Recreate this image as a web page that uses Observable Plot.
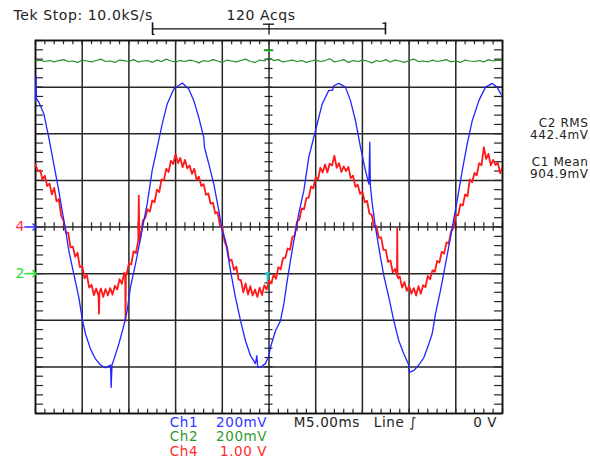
<!DOCTYPE html>
<html>
<head>
<meta charset="utf-8">
<script src="https://cdn.jsdelivr.net/npm/d3@7"></script>
<script src="https://cdn.jsdelivr.net/npm/@observablehq/plot@0.6"></script>
<style>
  html, body { margin: 0; padding: 0; background: #ffffff; }
</style>
</head>
<body>
<div id="chart"></div>
<script>
// Time in ms (5 ms/div), level in screen divisions.
const gridTimes = [0, 5, 10, 15, 20, 25, 30, 35, 40, 45, 50];
const gridLevels = [-4, -3, -2, -1, 0, 1, 2, 3, 4];

// Ch1 (blue, 200 mV/div) [ms, div]
const ch1 = [
[0,2.71],[0.05,3.25],[0.11,2.75],[0.35,2.68],[0.89,2.43],[1.42,1.92],[1.96,1.35],[2.49,0.78],[3.03,0.15],[3.21,-0.05],
[3.57,-0.51],[4.10,-1.01],[4.64,-1.51],[5.00,-1.97],[5.35,-2.29],[5.89,-2.62],[6.42,-2.83],[6.96,-2.96],[7.49,-3.02],[8.03,-2.96],
[8.10,-3.44],[8.19,-2.96],[8.38,-2.85],[8.92,-2.51],[9.45,-2.12],[9.82,-1.79],[10.17,-1.29],[10.71,-0.79],[11.24,-0.25],[11.42,-0.05],
[11.96,0.50],[12.49,1.21],[13.03,1.71],[13.57,2.21],[14.10,2.64],[14.81,2.96],[15.71,3.09],[16.41,2.96],[16.95,2.71],[17.48,2.35],
[18.02,1.92],[18.09,1.71],[18.56,1.35],[19.09,0.92],[19.63,0.35],[19.99,-0.08],[20.34,-0.29],[20.88,-0.94],[21.41,-1.51],[21.95,-2.01],
[22.48,-2.44],[23.02,-2.76],[23.55,-2.93],[23.70,-2.76],[23.80,-3.01],[24.09,-3.01],[24.63,-2.93],[24.98,-2.76],[25.16,-2.58],[25.70,-2.22],
[26.23,-2.01],[26.59,-1.65],[26.95,-1.15],[27.30,-0.72],[27.66,-0.29],[28.02,0.09],[28.19,0.29],[28.73,0.78],[29.26,1.50],[29.98,2.07],
[30.70,2.64],[31.40,2.93],[31.80,2.93],[31.94,3.03],[32.47,3.08],[33.19,3.00],[33.72,2.71],[34.26,2.28],[34.80,1.71],[35.33,1.21],
[35.69,0.92],[35.79,1.82],[35.85,0.89],[36.05,0.50],[36.40,-0.01],[36.94,-0.65],[37.29,-1.04],[37.83,-1.51],[38.36,-2.01],[38.90,-2.44],
[39.43,-2.72],[39.97,-2.96],[40.02,-3.12],[40.50,-3.08],[41.04,-2.96],[41.58,-2.80],[42.11,-2.51],[42.47,-2.29],[42.83,-1.86],[43.36,-1.36],
[43.90,-0.79],[44.43,-0.22],[44.62,-0.01],[45.15,0.57],[45.69,1.21],[46.22,1.78],[46.76,2.28],[47.47,2.71],[48.18,3.00],[48.90,3.08],
[49.43,3.00],[49.79,2.86],[50,2.82]
];

// Ch4 (red, 1.00 V/div) [ms, div]
const ch4 = [
[0.00,1.34],[0.25,1.20],[0.50,1.22],[0.75,1.02],[1.00,1.10],[1.25,0.88],[1.50,0.93],[1.75,0.70],[2.00,0.84],[2.25,0.55],
[2.50,0.60],[2.75,0.24],[3.00,0.14],[3.25,-0.12],[3.50,-0.12],[3.75,-0.44],[4.00,-0.42],[4.25,-0.64],[4.50,-0.55],[4.75,-0.86],
[5.00,-0.84],[5.25,-1.10],[5.50,-1.03],[5.75,-1.30],[6.00,-1.24],[6.25,-1.46],[6.50,-1.32],[6.75,-1.48],[6.80,-1.86],[6.85,-1.40],
[7.00,-1.32],[7.25,-1.50],[7.50,-1.33],[7.75,-1.47],[8.00,-1.31],[8.25,-1.45],[8.50,-1.26],[8.75,-1.34],[9.00,-1.12],[9.25,-1.22],
[9.50,-0.98],[9.60,-1.02],[9.64,-2.01],[9.68,-1.00],[9.75,-1.02],[10.00,-0.78],[10.25,-0.80],[10.50,-0.52],[10.75,-0.56],[11.00,-0.30],
[11.06,0.67],[11.12,-0.30],[11.25,-0.20],[11.50,0.14],[11.75,0.19],[12.00,0.38],[12.25,0.33],[12.50,0.57],[12.75,0.53],[13.00,0.80],
[13.25,0.75],[13.50,1.02],[13.75,1.00],[14.00,1.25],[14.25,1.18],[14.50,1.42],[14.75,1.35],[15.00,1.56],[15.25,1.37],[15.50,1.48],
[15.75,1.28],[16.00,1.44],[16.25,1.26],[16.50,1.32],[16.75,1.14],[17.00,1.25],[17.25,1.01],[17.50,1.08],[17.75,0.88],[18.00,0.92],
[18.25,0.69],[18.50,0.72],[18.75,0.50],[19.00,0.52],[19.25,0.29],[19.50,0.32],[19.75,0.03],[20.00,0.01],[20.25,-0.32],[20.50,-0.42],
[20.75,-0.73],[21.00,-0.70],[21.25,-0.92],[21.50,-0.85],[21.75,-1.13],[22.00,-1.14],[22.25,-1.40],[22.50,-1.21],[22.75,-1.45],[23.00,-1.27],
[23.25,-1.47],[23.50,-1.34],[23.75,-1.50],[24.00,-1.30],[24.25,-1.46],[24.50,-1.25],[24.75,-1.34],[25.00,-1.15],[25.25,-1.21],[25.50,-1.02],
[25.75,-1.11],[26.00,-0.86],[26.25,-0.91],[26.50,-0.67],[26.75,-0.66],[27.00,-0.46],[27.25,-0.49],[27.50,-0.22],[27.75,-0.18],[28.00,0.12],
[28.25,0.16],[28.50,0.40],[28.75,0.38],[29.00,0.62],[29.25,0.63],[29.50,0.87],[29.75,0.83],[30.00,1.07],[30.25,1.02],[30.50,1.27],
[30.75,1.17],[31.00,1.34],[31.25,1.17],[31.50,1.36],[31.75,1.32],[32.00,1.53],[32.25,1.27],[32.50,1.37],[32.75,1.18],[33.00,1.30],
[33.25,1.20],[33.50,1.29],[33.75,1.05],[34.00,1.10],[34.25,0.86],[34.50,0.91],[34.75,0.71],[35.00,0.76],[35.25,0.53],[35.50,0.56],
[35.75,0.29],[36.00,0.26],[36.25,0.01],[36.50,0.02],[36.75,-0.23],[37.00,-0.22],[37.25,-0.49],[37.50,-0.49],[37.75,-0.75],[38.00,-0.72],
[38.25,-0.97],[38.50,-0.90],[38.70,-1.04],[38.73,-0.03],[38.76,-1.06],[38.85,-1.10],[39.00,-1.06],[39.25,-1.30],[39.50,-1.18],[39.75,-1.37],
[40.00,-1.26],[40.25,-1.43],[40.50,-1.31],[40.75,-1.47],[41.00,-1.27],[41.25,-1.43],[41.50,-1.25],[41.75,-1.29],[42.00,-1.05],[42.25,-1.12],
[42.50,-0.93],[42.75,-0.96],[43.00,-0.73],[43.25,-0.76],[43.50,-0.53],[43.75,-0.57],[44.00,-0.33],[44.25,-0.35],[44.50,-0.09],[44.75,-0.02],
[45.00,0.26],[45.25,0.25],[45.50,0.49],[45.75,0.46],[46.00,0.70],[46.25,0.66],[46.50,1.02],[46.75,0.96],[47.00,1.16],[47.25,1.11],
[47.50,1.37],[47.75,1.32],[48.00,1.71],[48.25,1.46],[48.50,1.57],[48.75,1.32],[49.00,1.44],[49.25,1.33],[49.50,1.38],[49.75,1.15],
[50.00,1.28]
];

// Ch2 (green, 200 mV/div), sampled every 0.5 ms [div]
const ch2Step = 0.5;
const ch2 = [
3.56,3.58,3.55,3.57,3.54,3.57,3.59,3.55,3.56,3.53,
3.58,3.56,3.54,3.57,3.60,3.55,3.56,3.53,3.58,3.57,
3.55,3.59,3.54,3.56,3.57,3.53,3.58,3.55,3.60,3.56,
3.54,3.57,3.55,3.58,3.56,3.52,3.57,3.55,3.59,3.56,
3.53,3.58,3.56,3.54,3.57,3.60,3.55,3.53,3.58,3.56,
3.63,3.57,3.59,3.54,3.56,3.58,3.55,3.57,3.53,3.56,
3.58,3.55,3.57,3.61,3.54,3.56,3.59,3.53,3.57,3.55,
3.58,3.56,3.52,3.57,3.55,3.59,3.54,3.58,3.56,3.53,
3.57,3.60,3.55,3.56,3.54,3.58,3.55,3.57,3.59,3.54,
3.56,3.53,3.58,3.56,3.55,3.57,3.54,3.59,3.56,3.58,3.57
];

// Ground reference markers
const groundMarkers = [
  {label: "4", level: 0, text: "#ff2a4a", arrow: "#2a2aff"},
  {label: "2", level: -1, text: "#2ee02e", arrow: "#2ee02e"}
];

// Texts
const headerLeft = "Tek Stop: 10.0kS/s";
const headerMid = "120 Acqs";
const measureLabels = ["C2 RMS", "442.4mV", "C1 Mean", "904.9mV"];
const chNames = ["Ch1", "Ch2", "Ch4"];
const chScales = ["200mV", "200mV", "1.00 V"];
const chColors = ["#3333ff", "#2f9a2f", "#ff2a2a"];
const timebase = "M5.00ms";
const triggerSrc = "Line \u222B";
const triggerLevel = "0 V";

const minorTimes = d3.range(0, 50.001, 1);
const minorLevels = d3.range(-4, 4.001, 0.2);
const ch2Data = ch2.map((v, i) => ({t: i * ch2Step, v}));

const gridStroke = "#262626";
const tk = 0.43;   // minor tick half-length in ms
const tkY = 0.09;  // minor tick length in divisions

const txt = (s, dx, dy, opts = {}) => Plot.text([s], {
  frameAnchor: "top-left", lineAnchor: "middle", text: d => d, dx, dy,
  fill: "#222", fontSize: 14, textAnchor: "start", ...opts
});

const chart = Plot.plot({
  width: 590,
  height: 461,
  marginTop: 40,
  marginLeft: 35,
  marginRight: 88,
  marginBottom: 48,
  x: {domain: [0, 50], axis: null},
  y: {domain: [-4, 4], axis: null},
  style: {fontFamily: "DejaVu Sans", background: "#ffffff", overflow: "visible", letterSpacing: "0.6px"},
  marks: [
    // major graticule
    Plot.ruleX(gridTimes, {stroke: gridStroke, strokeWidth: 1.5}),
    Plot.ruleY(gridLevels, {stroke: gridStroke, strokeWidth: 1.5}),
    // minor ticks on the edges
    Plot.ruleX(minorTimes, {y1: 4, y2: 4 - tkY, stroke: gridStroke, strokeWidth: 1.2}),
    Plot.ruleX(minorTimes, {y1: -4, y2: -4 + tkY, stroke: gridStroke, strokeWidth: 1.2}),
    Plot.ruleY(minorLevels, {x1: 0, x2: 2 * tk, stroke: gridStroke, strokeWidth: 1.2}),
    Plot.ruleY(minorLevels, {x1: 50, x2: 50 - 2 * tk, stroke: gridStroke, strokeWidth: 1.2}),
    // minor ticks on the centre cross
    Plot.ruleX(minorTimes, {y1: -tkY, y2: tkY, stroke: gridStroke, strokeWidth: 1.2}),
    Plot.ruleY(minorLevels, {x1: 25 - tk, x2: 25 + tk, stroke: gridStroke, strokeWidth: 1.2}),
    Plot.frame({stroke: "#111", strokeWidth: 1.6}),
    // trigger markers
    Plot.ruleY([3.79], {x1: 24.5, x2: 25.5, stroke: "#22b022", strokeWidth: 2}),
    Plot.ruleY([-0.99], {x1: 24.6, x2: 25.1, stroke: "#20d0d0", strokeWidth: 2}),
    Plot.ruleX([24.85], {y1: -0.99, y2: -1.2, stroke: "#20d0d0", strokeWidth: 2}),
    // traces
    Plot.line(ch2Data, {x: "t", y: "v", stroke: "#2a8c2a", strokeWidth: 1.2, clip: true}),
    Plot.line(ch4, {x: d => d[0], y: d => d[1], stroke: "#ff1a1a", strokeWidth: 1.8, clip: true}),
    Plot.line(ch1, {x: d => d[0], y: d => d[1], stroke: "#2424ff", strokeWidth: 1.3, clip: true}),
    // ground markers on the left
    Plot.text(groundMarkers, {x: -2.15, y: "level", text: "label", fill: "text", fontSize: 14, textAnchor: "start"}),
    Plot.link(groundMarkers, {x1: -1.2, x2: -0.1, y1: "level", y2: "level", stroke: "arrow", strokeWidth: 1.5, markerEnd: "arrow"}),
    // record bracket at top
    Plot.ruleY([4.25], {x1: 12.53, x2: 37.47, stroke: "#111", strokeWidth: 1.2}),
    Plot.ruleX([12.53, 37.47], {y1: 4.12, y2: 4.38, stroke: "#111", strokeWidth: 1.6}),
    Plot.ruleY([4.13], {x1: 12.53, x2: 12.8, stroke: "#111", strokeWidth: 1.2}),
    Plot.ruleY([4.37], {x1: 37.2, x2: 37.47, stroke: "#111", strokeWidth: 1.2}),
    Plot.ruleX([25], {y1: 4.12, y2: 4.35, stroke: "#111", strokeWidth: 1.3}),
    Plot.ruleY([4.35], {x1: 24.4, x2: 25.6, stroke: "#111", strokeWidth: 1.3}),
    // header
    txt(headerLeft, -22, -25),
    txt(headerMid, 191, -25),
    // measurements on the right
    ...measureLabels.map((s, i) => txt(s, 553, [82.2, 94.4, 121.5, 133.7][i], {textAnchor: "end", fontSize: 12})),
    // channel settings
    ...chNames.map((s, i) => txt(s, 134.3, 381.7 + i * 14.8, {fill: chColors[i], fontSize: 13.5})),
    ...chScales.map((s, i) => txt(s, 231.7, 381.7 + i * 14.8, {fill: chColors[i], fontSize: 13.5, textAnchor: "end"})),
    txt(timebase, 258.3, 381.7, {fontSize: 13.5}),
    txt(triggerSrc, 338.3, 381.7, {fontSize: 13.5}),
    txt(triggerLevel, 461.7, 381.7, {fontSize: 13.5, textAnchor: "end"})
  ]
});
document.getElementById("chart").appendChild(chart);
</script>
</body>
</html>
